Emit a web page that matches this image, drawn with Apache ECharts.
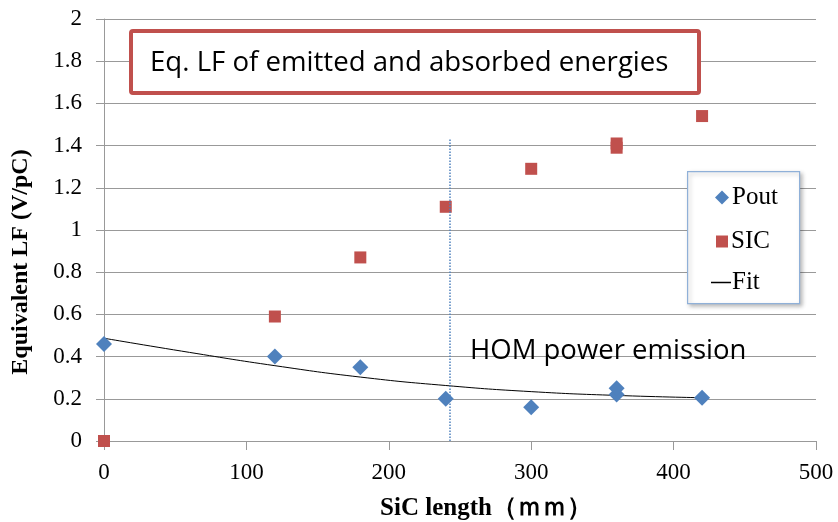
<!DOCTYPE html>
<html>
<head>
<meta charset="utf-8">
<script src="https://cdn.jsdelivr.net/npm/echarts@6/dist/echarts.min.js"></script>
<style>html,body{margin:0;padding:0;background:#fff;}#c{width:838px;height:522px;}</style>
</head>
<body>
<div id="c"></div>
<script>
// SiC length (mm)
const poutX = [0, 120, 180, 240, 300, 360, 360, 420];
const poutY = [0.46, 0.40, 0.35, 0.20, 0.16, 0.22, 0.25, 0.205];
const sicX = [0, 120, 180, 240, 300, 360, 360, 420];
const sicY = [0.00, 0.59, 0.87, 1.11, 1.29, 1.39, 1.41, 1.54];
const fitX = [0, 60, 120, 180, 240, 300, 360, 420];
const fitY = [0.487, 0.42, 0.357, 0.303, 0.263, 0.234, 0.216, 0.205];
const markerX = 243;
const markerTop = 1.43;
const titleText = 'Eq. LF of emitted and absorbed energies';
const noteText = 'HOM power emission';
const xName = 'SiC length（ｍｍ）';
const yName = 'Equivalent LF (V/pC)';

const zip = (xs, ys) => xs.map((x, i) => [x, ys[i]]);
const serif = '"Liberation Serif","Times New Roman",serif';
const sans = '"Open Sans","Noto Sans",sans-serif';
const blue = '#4f81bd', red = '#c0504d';

const chart = echarts.init(document.getElementById('c'), null, {renderer: 'canvas'});
chart.setOption({
  animation: false,
  backgroundColor: '#fff',
  grid: {left: 104, right: 22, top: 19, bottom: 81, containLabel: false, outerBoundsMode: 'none'},
  xAxis: {
    type: 'value', min: 0, max: 500, interval: 100,
    name: xName, nameLocation: 'middle', nameGap: 55,
    nameTextStyle: {fontFamily: serif, fontWeight: 'bold', fontSize: 25, color: '#000', padding: [0, 0, 0, 52]},
    axisLine: {show: true, lineStyle: {color: '#999', width: 1}},
    axisTick: {show: true, length: 9, lineStyle: {color: '#999'}},
    axisLabel: {fontFamily: serif, fontSize: 23, color: '#000', margin: 20},
    splitLine: {show: false}
  },
  yAxis: {
    type: 'value', min: 0, max: 2, interval: 0.2,
    name: yName, nameLocation: 'middle', nameGap: 71, nameRotate: 90,
    nameTextStyle: {fontFamily: serif, fontWeight: 'bold', fontSize: 24, color: '#000', padding: [0, 64, 0, 0]},
    axisLine: {show: true, lineStyle: {color: '#999', width: 1}},
    axisTick: {show: true, length: 8, lineStyle: {color: '#999'}},
    axisLabel: {fontFamily: serif, fontSize: 23, color: '#000', margin: 22},
    splitLine: {show: true, lineStyle: {color: '#999', width: 1}}
  },
  legend: [
    {data: [{name: 'Pout', icon: 'diamond'}], left: 710, top: 180, itemWidth: 14, itemHeight: 14, itemGap: 4, z: 10,
     textStyle: {fontFamily: serif, fontSize: 25, color: '#000', padding: [0, 0, 0, -2]}},
    {data: [{name: 'SIC', icon: 'rect'}], left: 711, top: 224, itemWidth: 12, itemHeight: 12, itemGap: 4, z: 10,
     textStyle: {fontFamily: serif, fontSize: 25, color: '#000', padding: [0, 0, 0, -2]}},
    {data: [{name: 'Fit', icon: 'rect'}], left: 706, top: 265, itemWidth: 20, itemHeight: 1.5, itemGap: 0, z: 10,
     textStyle: {fontFamily: serif, fontSize: 25, color: '#000', padding: [0, 0, 0, -4]}}
  ],
  graphic: [
    {type: 'rect', left: 687, top: 171, z: 3,
     shape: {width: 112, height: 132},
     style: {fill: '#fff', stroke: '#8fb0d8', lineWidth: 1.2, shadowBlur: 4, shadowOffsetX: 2, shadowOffsetY: 2, shadowColor: 'rgba(0,0,0,0.25)'}},
    {type: 'rect', left: 129, top: 29, z: 5,
     shape: {width: 568, height: 62, r: 2},
     style: {fill: '#fff', stroke: red, lineWidth: 4}},
    {type: 'text', left: 150, top: 49, z: 6,
     style: {text: titleText, font: '27.6px ' + sans, fill: '#000'}},
    {type: 'text', left: 470, top: 337, z: 6,
     style: {text: noteText, font: '27.5px ' + sans, fill: '#000'}}
  ],
  series: [
    {name: 'Pout', type: 'scatter', data: zip(poutX, poutY), symbol: 'diamond', symbolSize: 16,
     itemStyle: {color: blue, opacity: 1}, z: 4},
    {name: 'SIC', type: 'scatter', data: zip(sicX, sicY), symbol: 'rect', symbolSize: 12,
     itemStyle: {color: red, opacity: 1}, z: 4},
    {name: 'Fit', type: 'line', data: zip(fitX, fitY), smooth: true, showSymbol: false, symbol: 'none',
     lineStyle: {color: '#000', width: 1}, itemStyle: {color: '#000'}, z: 3,
     markLine: {silent: true, symbol: 'none', label: {show: false},
       lineStyle: {color: blue, type: 'dotted', width: 1.5},
       data: [[{coord: [markerX, 0]}, {coord: [markerX, markerTop]}]]}}
  ]
});
</script>
</body>
</html>
